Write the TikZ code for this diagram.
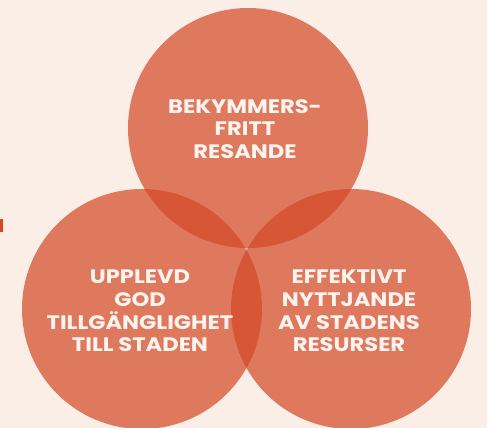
\documentclass[tikz,border=0pt]{standalone}
\usepackage{fontspec}
\setmainfont{Poppins}[FakeStretch=1.16]
\definecolor{bgc}{HTML}{FBEEE7}
\definecolor{circc}{HTML}{D44825}
\definecolor{txtc}{HTML}{FDF4EF}
\begin{document}
\begin{tikzpicture}[x=1pt,y=-1pt,
  venn/.style={circle,fill=circc,fill opacity=0.7,draw=none,minimum size=240pt,inner sep=0pt},
  lbl/.style={text=txtc,align=center,font=\fontsize{19.5}{22.7}\selectfont\bfseries,inner sep=0pt}]
\fill[bgc] (0,0) rectangle (487,428);
\useasboundingbox (0,0) rectangle (487,428);
\node[venn] (top) at (248,128) {};
\node[venn] (left) at (142,309) {};
\node[venn] (right) at (351,309) {};
\fill[circc] (0,219) rectangle (3,232);
\node[lbl] (t1) at (245,129) {BEKYMMERS-\\FRITT\\RESANDE};
\node[lbl] (t2) at (140,311) {UPPLEVD\\GOD\\TILLGÄNGLIGHET\\TILL STADEN};
\node[lbl] (t3) at (349,311) {EFFEKTIVT\\NYTTJANDE\\AV STADENS\\RESURSER};
\end{tikzpicture}
\end{document}
